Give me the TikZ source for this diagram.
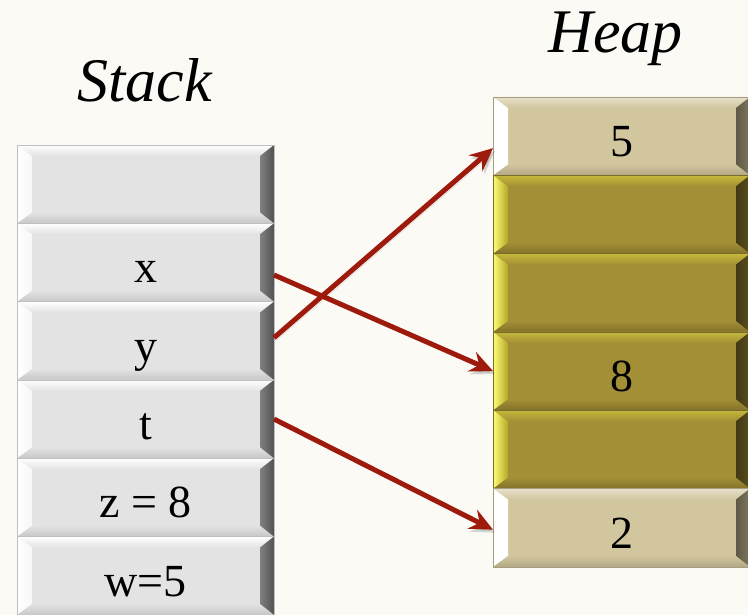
\documentclass[tikz,border=0pt]{standalone}
\usepackage{fontspec}
\setmainfont{Liberation Serif}
\usetikzlibrary{positioning}
\usetikzlibrary{arrows.meta}
\tikzset{>={Stealth[width=21pt,length=23pt,inset=8pt]}}

\definecolor{paper}{HTML}{FBFAF5}
\definecolor{stackface}{HTML}{E3E3E3}
\definecolor{heapface}{HTML}{D2C69E}
\definecolor{heapfull}{HTML}{A38F35}
\definecolor{ptrred}{HTML}{9E1A0C}

% four bevelled edges of a memory cell: left, top, bottom, right
\newcommand{\cellbevel}[4]{%
	\coordinate (nw) at (path picture bounding box.north west);
	\coordinate (ne) at (path picture bounding box.north east);
	\coordinate (sw) at (path picture bounding box.south west);
	\coordinate (se) at (path picture bounding box.south east);
	\coordinate (inw) at ([shift={(15pt,-11pt)}]nw);
	\coordinate (ine) at ([shift={(-14pt,-11pt)}]ne);
	\coordinate (isw) at ([shift={(15pt,11pt)}]sw);
	\coordinate (ise) at ([shift={(-14pt,11pt)}]se);
	\path[#2] (nw) -- (ne) -- (ine) -- (inw) -- cycle;
	\path[#3] (sw) -- (se) -- (ise) -- (isw) -- cycle;
	\path[#1] (nw) -- (inw) -- (isw) -- (sw) -- cycle;
	\path[#4] (ne) -- (ine) -- (ise) -- (se) -- cycle;
}

\tikzset{
	cell/.style={minimum width=257pt, minimum height=78.3pt, inner sep=0pt, outer sep=0pt,
		text height=41pt, text depth=0pt,
		line width=0.6pt, font=\fontsize{46}{50}\selectfont},
	stackcell/.style={cell, draw=black!25, fill=stackface, path picture={\cellbevel
		{left color=white, right color=black!3}
		{top color=white, bottom color=stackface}
		{top color=stackface, bottom color=black!22}
		{left color=black!50, right color=black!68}}},
	heapcell/.style={cell, draw=heapface!80!black, fill=heapface, path picture={\cellbevel
		{fill=white}
		{top color=heapface!55!white, bottom color=heapface}
		{top color=heapface, bottom color=heapface!85!black}
		{left color=heapface!45!black, right color=heapface!60!black}}},
	fullcell/.style={cell, draw=heapfull!75!black, fill=heapfull, path picture={\cellbevel
		{left color=yellow!55!white, right color=heapfull!80!yellow}
		{top color=heapfull!70!yellow!90!white, bottom color=heapfull}
		{top color=heapfull, bottom color=heapfull!80!black}
		{left color=heapfull!40!black, right color=heapfull!55!black}}},
	title/.style={anchor=base, font=\fontsize{62}{66}\selectfont\itshape},
	pointer/.style={draw=ptrred, line width=5pt, ->,
		preaction={draw=black, opacity=0.15, transform canvas={shift={(2pt,-3pt)}}}},
}

\begin{document}
\begin{tikzpicture}[x=1pt, y=-1pt]
	\useasboundingbox [fill=paper] (0,0) rectangle (748,615);

	\node (STACK) [title] at (144.5,102) {Stack};
	\node (HEAP) [title] at (615.5,53) {Heap};

	% stack frames
	\node (S1) [stackcell] at (145.5,184.15) {};
	\node (SX) [stackcell, below=0pt of S1] {x};
	\node (SY) [stackcell, below=0pt of SX] {y};
	\node (ST) [stackcell, below=0pt of SY] {t};
	\node (SZ) [stackcell, below=0pt of ST] {z = 8};
	\node (SW) [stackcell, below=0pt of SZ] {w=5};

	% heap blocks
	\node (H1) [heapcell] at (621.5,136.15) {5};
	\node (H2) [fullcell, below=0pt of H1] {};
	\node (H3) [fullcell, below=0pt of H2] {};
	\node (H4) [fullcell, below=0pt of H3] {8};
	\node (H5) [fullcell, below=0pt of H4] {};
	\node (H6) [heapcell, below=0pt of H5] {2};

	\path [pointer] ([yshift=-12.5pt]SX.east) -- (H4.west);
	\path [pointer] ([yshift=3pt]SY.east) -- ([yshift=-12pt]H1.west);
	\path [pointer] (ST.east) -- ([yshift=-2pt]H6.west);
\end{tikzpicture}
\end{document}
